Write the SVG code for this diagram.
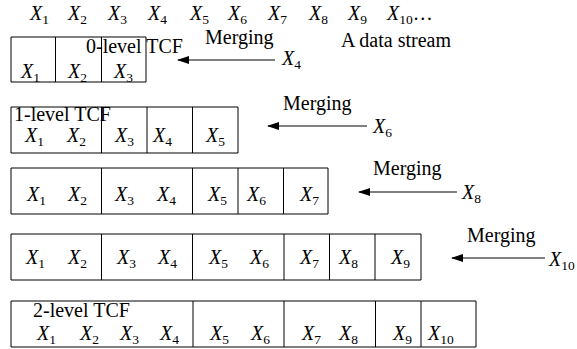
<svg xmlns="http://www.w3.org/2000/svg" width="577" height="349" viewBox="0 0 577 349">
<style>
text{font-family:"Liberation Serif","Times New Roman",serif;font-size:20px;fill:#000}
.x{font-style:italic}
.s{font-style:normal;font-size:13.5px}
.b{fill:none;stroke:#000;stroke-width:1}
.c{stroke:#000;stroke-width:1.2;fill:none;marker-end:url(#ah)}
</style>
<defs>
<marker id="ah" markerWidth="12" markerHeight="8" refX="11" refY="4" orient="auto" markerUnits="userSpaceOnUse">
<path d="M0,0 L12,4 L0,8 Z" fill="#000"/>
</marker>
</defs>
<rect width="577" height="349" fill="#fff"/>
<g id="stream">
<text class="x" x="30" y="20">X<tspan class="s" dy="4">1</tspan></text>
<text class="x" x="68" y="20">X<tspan class="s" dy="4">2</tspan></text>
<text class="x" x="108" y="20">X<tspan class="s" dy="4">3</tspan></text>
<text class="x" x="148" y="20">X<tspan class="s" dy="4">4</tspan></text>
<text class="x" x="190" y="20">X<tspan class="s" dy="4">5</tspan></text>
<text class="x" x="228" y="20">X<tspan class="s" dy="4">6</tspan></text>
<text class="x" x="268" y="20">X<tspan class="s" dy="4">7</tspan></text>
<text class="x" x="309" y="20">X<tspan class="s" dy="4">8</tspan></text>
<text class="x" x="348" y="20">X<tspan class="s" dy="4">9</tspan></text>
<text class="x" x="387" y="20">X<tspan class="s" dy="4">10</tspan><tspan style="font-style:normal" dy="-4">…</tspan></text>
<text x="341" y="47">A data stream</text>
</g>
<g id="row0">
<path class="b" d="M11,37H146V82H11ZM55.5,37V82M101.5,37V82"/>
<text x="86" y="53">0-level TCF</text>
<text class="x" x="21" y="78">X<tspan class="s" dy="4">1</tspan></text>
<text class="x" x="68" y="78">X<tspan class="s" dy="4">2</tspan></text>
<text class="x" x="114" y="78">X<tspan class="s" dy="4">3</tspan></text>
</g>
<g id="row1">
<path class="b" d="M11,107H238V153H11ZM101.5,107V153M147,107V153M192.5,107V153"/>
<text x="14" y="121">1-level TCF</text>
<text class="x" x="25" y="142">X<tspan class="s" dy="4">1</tspan></text>
<text class="x" x="67" y="142">X<tspan class="s" dy="4">2</tspan></text>
<text class="x" x="115" y="142">X<tspan class="s" dy="4">3</tspan></text>
<text class="x" x="153" y="142">X<tspan class="s" dy="4">4</tspan></text>
<text class="x" x="206" y="142">X<tspan class="s" dy="4">5</tspan></text>
</g>
<g id="row2">
<path class="b" d="M11,168H328V214H11ZM101.5,168V214M192.5,168V214M238,168V214M283.5,168V214"/>
<text class="x" x="27" y="201">X<tspan class="s" dy="4">1</tspan></text>
<text class="x" x="68" y="201">X<tspan class="s" dy="4">2</tspan></text>
<text class="x" x="115" y="201">X<tspan class="s" dy="4">3</tspan></text>
<text class="x" x="157" y="201">X<tspan class="s" dy="4">4</tspan></text>
<text class="x" x="208" y="201">X<tspan class="s" dy="4">5</tspan></text>
<text class="x" x="247" y="201">X<tspan class="s" dy="4">6</tspan></text>
<text class="x" x="300" y="201">X<tspan class="s" dy="4">7</tspan></text>
</g>
<g id="row3">
<path class="b" d="M11,234H421V280H11ZM101.5,234V280M192.5,234V280M284,234V280M329.5,234V280M375,234V280"/>
<text class="x" x="26" y="264">X<tspan class="s" dy="4">1</tspan></text>
<text class="x" x="68" y="264">X<tspan class="s" dy="4">2</tspan></text>
<text class="x" x="117" y="264">X<tspan class="s" dy="4">3</tspan></text>
<text class="x" x="158" y="264">X<tspan class="s" dy="4">4</tspan></text>
<text class="x" x="209" y="264">X<tspan class="s" dy="4">5</tspan></text>
<text class="x" x="250" y="264">X<tspan class="s" dy="4">6</tspan></text>
<text class="x" x="300" y="264">X<tspan class="s" dy="4">7</tspan></text>
<text class="x" x="339" y="264">X<tspan class="s" dy="4">8</tspan></text>
<text class="x" x="391" y="264">X<tspan class="s" dy="4">9</tspan></text>
</g>
<g id="row4">
<path class="b" d="M11,301H476V347H11ZM193,301V347M284,301V347M375.5,301V347M421,301V347"/>
<text x="33" y="317">2-level TCF</text>
<text class="x" x="37" y="340">X<tspan class="s" dy="4">1</tspan></text>
<text class="x" x="80" y="340">X<tspan class="s" dy="4">2</tspan></text>
<text class="x" x="120" y="340">X<tspan class="s" dy="4">3</tspan></text>
<text class="x" x="160" y="340">X<tspan class="s" dy="4">4</tspan></text>
<text class="x" x="210" y="340">X<tspan class="s" dy="4">5</tspan></text>
<text class="x" x="251" y="340">X<tspan class="s" dy="4">6</tspan></text>
<text class="x" x="302" y="340">X<tspan class="s" dy="4">7</tspan></text>
<text class="x" x="339" y="340">X<tspan class="s" dy="4">8</tspan></text>
<text class="x" x="393" y="340">X<tspan class="s" dy="4">9</tspan></text>
<text class="x" x="428" y="340">X<tspan class="s" dy="4">10</tspan></text>
</g>
<g id="connectors">
<line class="c" x1="275" y1="60" x2="178" y2="60"/>
<line class="c" x1="367" y1="126" x2="268" y2="126"/>
<line class="c" x1="457" y1="192" x2="359" y2="192"/>
<line class="c" x1="545" y1="258" x2="452" y2="258"/>
</g>
<g id="labels">
<text x="205" y="44">Merging</text>
<text class="x" x="282" y="65">X<tspan class="s" dy="4">4</tspan></text>
<text x="283" y="110">Merging</text>
<text class="x" x="373" y="133">X<tspan class="s" dy="4">6</tspan></text>
<text x="373" y="175">Merging</text>
<text class="x" x="462" y="199">X<tspan class="s" dy="4">8</tspan></text>
<text x="467" y="242">Merging</text>
<text class="x" x="549" y="266">X<tspan class="s" dy="4">10</tspan></text>
</g>
</svg>
